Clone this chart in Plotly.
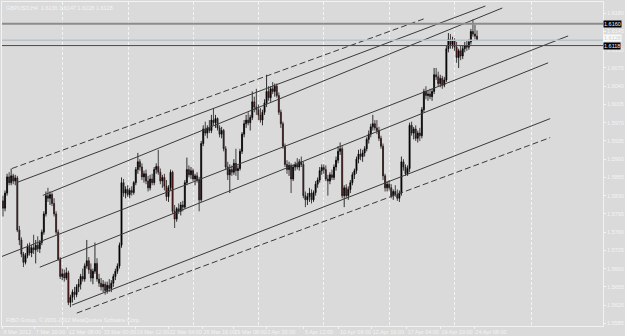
import plotly.graph_objects as go

# ---------------- data ----------------
open_ = [
 1.5820,1.5806,1.5835,1.5866,1.5855,1.5868,1.5858,1.5864,1.5764,1.5745,
 1.5718,1.5702,1.5715,1.5732,1.5720,1.5730,1.5726,1.5735,1.5728,1.5740,
 1.5760,1.5795,1.5830,1.5825,1.5832,1.5815,1.5795,1.5760,1.5708,1.5675,
 1.5680,1.5672,1.5682,1.5625,1.5635,1.5645,1.5640,1.5655,1.5660,1.5675,
 1.5670,1.5695,1.5705,1.5688,1.5672,1.5685,1.5700,1.5670,1.5662,1.5655,
 1.5660,1.5648,1.5658,1.5652,1.5662,1.5675,1.5685,1.5695,1.5735,1.5855,
 1.5835,1.5842,1.5832,1.5840,1.5836,1.5855,1.5880,1.5895,1.5885,1.5866,
 1.5872,1.5858,1.5845,1.5862,1.5855,1.5880,1.5886,1.5875,1.5858,1.5865,
 1.5848,1.5828,1.5845,1.5875,1.5800,1.5785,1.5805,1.5800,1.5812,1.5808,
 1.5855,1.5880,1.5870,1.5878,1.5862,1.5868,1.5860,1.5822,1.5930,1.5958,
 1.5950,1.5960,1.5955,1.5975,1.5970,1.5978,1.5960,1.5948,1.5955,1.5920,
 1.5885,1.5870,1.5880,1.5875,1.5892,1.5878,1.5882,1.5915,1.5948,1.5968,
 1.5975,1.5970,1.5980,1.6010,1.6000,1.5995,1.5985,1.5975,1.5990,1.6008,
 1.6030,1.6018,1.6035,1.6030,1.6040,1.6022,1.5990,1.5968,1.5925,1.5890,
 1.5880,1.5888,1.5862,1.5885,1.5890,1.5885,1.5895,1.5890,1.5830,1.5822,
 1.5828,1.5835,1.5822,1.5836,1.5852,1.5860,1.5878,1.5884,1.5880,1.5862,
 1.5858,1.5870,1.5865,1.5885,1.5898,1.5915,1.5920,1.5830,1.5845,1.5830,
 1.5842,1.5855,1.5870,1.5878,1.5900,1.5910,1.5905,1.5912,1.5920,1.5938,
 1.5948,1.5962,1.5968,1.5960,1.5955,1.5940,1.5925,1.5868,1.5845,1.5852,
 1.5845,1.5830,1.5838,1.5832,1.5825,1.5835,1.5895,1.5885,1.5872,1.5882,
 1.5965,1.5950,1.5958,1.5940,1.5950,1.5945,1.5995,1.6030,1.6022,1.6025,
 1.6020,1.6030,1.6062,1.6058,1.6045,1.6055,1.6042,1.6052,1.6112,1.6130,
 1.6120,1.6128,1.6115,1.6095,1.6108,1.6098,1.6112,1.6118,1.6115,1.6125,
 1.6145,1.6140,1.6136]

high = [
 1.5830,1.5840,1.5872,1.5875,1.5882,1.5872,1.5870,1.5868,1.5772,1.5750,
 1.5722,1.5720,1.5738,1.5740,1.5735,1.5755,1.5745,1.5752,1.5745,1.5765,
 1.5800,1.5838,1.5845,1.5838,1.5836,1.5825,1.5800,1.5765,1.5712,1.5690,
 1.5688,1.5692,1.5686,1.5640,1.5650,1.5655,1.5660,1.5670,1.5680,1.5690,
 1.5700,1.5745,1.5712,1.5700,1.5690,1.5740,1.5710,1.5680,1.5672,1.5668,
 1.5665,1.5665,1.5670,1.5668,1.5680,1.5690,1.5700,1.5740,1.5865,1.5862,
 1.5848,1.5850,1.5845,1.5848,1.5858,1.5885,1.5912,1.5900,1.5892,1.5878,
 1.5880,1.5868,1.5870,1.5872,1.5885,1.5892,1.5918,1.5882,1.5870,1.5872,
 1.5860,1.5850,1.5880,1.5878,1.5812,1.5808,1.5815,1.5818,1.5820,1.5860,
 1.5903,1.5888,1.5885,1.5882,1.5872,1.5875,1.5866,1.5935,1.5965,1.5972,
 1.5965,1.5975,1.5985,1.5998,1.5985,1.5980,1.5965,1.5962,1.5958,1.5925,
 1.5895,1.5890,1.5888,1.5900,1.5920,1.5888,1.5920,1.5952,1.5975,1.5985,
 1.5990,1.5985,1.6030,1.6020,1.6035,1.6005,1.5998,1.5995,1.6015,1.6062,
 1.6040,1.6040,1.6048,1.6045,1.6045,1.6028,1.5995,1.5972,1.5930,1.5898,
 1.5895,1.5892,1.5890,1.5895,1.5902,1.5900,1.5905,1.5895,1.5838,1.5835,
 1.5845,1.5842,1.5840,1.5858,1.5865,1.5885,1.5890,1.5890,1.5888,1.5870,
 1.5875,1.5880,1.5890,1.5905,1.5925,1.5932,1.5925,1.5850,1.5852,1.5848,
 1.5860,1.5875,1.5882,1.5905,1.5918,1.5920,1.5918,1.5925,1.5942,1.5955,
 1.5968,1.5985,1.5975,1.5975,1.5962,1.5945,1.5930,1.5872,1.5858,1.5860,
 1.5852,1.5842,1.5850,1.5842,1.5840,1.5905,1.5900,1.5890,1.5888,1.5970,
 1.5972,1.5962,1.5965,1.5955,1.5960,1.6000,1.6035,1.6040,1.6032,1.6035,
 1.6035,1.6075,1.6075,1.6068,1.6062,1.6060,1.6058,1.6118,1.6142,1.6140,
 1.6135,1.6132,1.6125,1.6112,1.6118,1.6118,1.6125,1.6128,1.6130,1.6150,
 1.6168,1.6158,1.6147]

low = [
 1.5790,1.5800,1.5830,1.5850,1.5850,1.5852,1.5850,1.5760,1.5735,1.5712,
 1.5693,1.5698,1.5710,1.5715,1.5712,1.5718,1.5700,1.5722,1.5720,1.5735,
 1.5755,1.5790,1.5818,1.5812,1.5810,1.5790,1.5755,1.5705,1.5670,1.5668,
 1.5665,1.5668,1.5620,1.5616,1.5625,1.5630,1.5635,1.5645,1.5650,1.5665,
 1.5665,1.5690,1.5680,1.5665,1.5660,1.5680,1.5665,1.5655,1.5648,1.5645,
 1.5640,1.5642,1.5645,1.5645,1.5655,1.5668,1.5680,1.5690,1.5730,1.5828,
 1.5825,1.5828,1.5825,1.5830,1.5832,1.5850,1.5872,1.5878,1.5860,1.5855,
 1.5852,1.5838,1.5840,1.5850,1.5850,1.5872,1.5870,1.5852,1.5845,1.5840,
 1.5820,1.5818,1.5840,1.5795,1.5768,1.5780,1.5795,1.5792,1.5800,1.5805,
 1.5850,1.5865,1.5862,1.5858,1.5850,1.5855,1.5800,1.5818,1.5925,1.5945,
 1.5940,1.5950,1.5950,1.5965,1.5960,1.5955,1.5942,1.5940,1.5915,1.5880,
 1.5860,1.5835,1.5868,1.5870,1.5868,1.5860,1.5878,1.5910,1.5942,1.5960,
 1.5965,1.5955,1.5975,1.5990,1.5985,1.5975,1.5970,1.5965,1.5985,1.6000,
 1.6012,1.6010,1.6025,1.6020,1.6018,1.5985,1.5960,1.5920,1.5885,1.5872,
 1.5868,1.5835,1.5858,1.5878,1.5880,1.5878,1.5885,1.5825,1.5808,1.5812,
 1.5818,1.5815,1.5818,1.5830,1.5845,1.5855,1.5870,1.5872,1.5858,1.5830,
 1.5852,1.5860,1.5860,1.5878,1.5892,1.5908,1.5825,1.5808,1.5825,1.5822,
 1.5835,1.5850,1.5862,1.5872,1.5892,1.5898,1.5895,1.5905,1.5915,1.5930,
 1.5942,1.5955,1.5955,1.5948,1.5935,1.5920,1.5860,1.5838,1.5838,1.5840,
 1.5825,1.5822,1.5828,1.5820,1.5818,1.5830,1.5878,1.5868,1.5868,1.5875,
 1.5945,1.5938,1.5935,1.5932,1.5935,1.5940,1.5990,1.6015,1.6012,1.6015,
 1.6012,1.6025,1.6052,1.6040,1.6038,1.6035,1.6038,1.6048,1.6105,1.6112,
 1.6112,1.6108,1.6085,1.6075,1.6090,1.6092,1.6105,1.6108,1.6110,1.6120,
 1.6135,1.6130,1.6128]

close = [
 1.5806,1.5835,1.5866,1.5855,1.5868,1.5858,1.5864,1.5764,1.5745,1.5718,
 1.5702,1.5715,1.5732,1.5720,1.5730,1.5726,1.5735,1.5728,1.5740,1.5760,
 1.5795,1.5830,1.5825,1.5832,1.5815,1.5795,1.5760,1.5708,1.5675,1.5680,
 1.5672,1.5682,1.5625,1.5635,1.5645,1.5640,1.5655,1.5660,1.5675,1.5670,
 1.5695,1.5705,1.5688,1.5672,1.5685,1.5700,1.5670,1.5662,1.5655,1.5660,
 1.5648,1.5658,1.5652,1.5662,1.5675,1.5685,1.5695,1.5735,1.5855,1.5835,
 1.5842,1.5832,1.5840,1.5836,1.5855,1.5880,1.5895,1.5885,1.5866,1.5872,
 1.5858,1.5845,1.5862,1.5855,1.5880,1.5886,1.5875,1.5858,1.5865,1.5848,
 1.5828,1.5845,1.5875,1.5800,1.5785,1.5805,1.5800,1.5812,1.5808,1.5855,
 1.5880,1.5870,1.5878,1.5862,1.5868,1.5860,1.5822,1.5930,1.5958,1.5950,
 1.5960,1.5955,1.5975,1.5970,1.5978,1.5960,1.5948,1.5955,1.5920,1.5885,
 1.5870,1.5880,1.5875,1.5892,1.5878,1.5882,1.5915,1.5948,1.5968,1.5975,
 1.5970,1.5980,1.6010,1.6000,1.5995,1.5985,1.5975,1.5990,1.6008,1.6030,
 1.6018,1.6035,1.6030,1.6040,1.6022,1.5990,1.5968,1.5925,1.5890,1.5880,
 1.5888,1.5862,1.5885,1.5890,1.5885,1.5895,1.5890,1.5830,1.5822,1.5828,
 1.5835,1.5822,1.5836,1.5852,1.5860,1.5878,1.5884,1.5880,1.5862,1.5858,
 1.5870,1.5865,1.5885,1.5898,1.5915,1.5920,1.5830,1.5845,1.5830,1.5842,
 1.5855,1.5870,1.5878,1.5900,1.5910,1.5905,1.5912,1.5920,1.5938,1.5948,
 1.5962,1.5968,1.5960,1.5955,1.5940,1.5925,1.5868,1.5845,1.5852,1.5845,
 1.5830,1.5838,1.5832,1.5825,1.5835,1.5895,1.5885,1.5872,1.5882,1.5965,
 1.5950,1.5958,1.5940,1.5950,1.5945,1.5995,1.6030,1.6022,1.6025,1.6020,
 1.6030,1.6062,1.6058,1.6045,1.6055,1.6042,1.6052,1.6112,1.6130,1.6120,
 1.6128,1.6115,1.6095,1.6108,1.6098,1.6112,1.6118,1.6115,1.6125,1.6145,
 1.6140,1.6136,1.6128]

bars = list(range(len(close)))

# time-axis labels (bar position, text)
x_tick_pos = [-0.3, 15.6, 31.7, 48.8, 64.9, 81.0, 97.6, 112.7, 128.8, 147.3,
              164.4, 180.5, 197.6, 214.1, 230.7]
x_tick_text = ["6 Mar 2012", "7 Mar 20:00", "12 Mar 08:00", "15 Mar 00:00",
               "19 Mar 12:00", "22 Mar 04:00", "26 Mar 16:00", "29 Mar 08:00",
               "2 Apr 20:00", "5 Apr 12:00", "10 Apr 08:00", "12 Apr 16:00",
               "17 Apr 04:00", "19 Apr 20:00", "24 Apr 08:00"]
grid_pos = [29.3, 61.5, 93.2, 124.9, 157.1, 189.3, 221.0, 258.5]

# price-axis labels
y_ticks = [1.6180, 1.6145, 1.6110, 1.6075, 1.6040, 1.6005, 1.5970, 1.5935,
           1.5900, 1.5865, 1.5830, 1.5795, 1.5760, 1.5725, 1.5690, 1.5655,
           1.5620, 1.5585]
y_tick_text = ["%.4f" % v for v in y_ticks]

# channel / trend lines: (bar0, price0, bar1, price1, dashed)
channel_lines = [
    (4.4, 1.58821, 205.9, 1.61691, True),
    (6.8, 1.58553, 236.1, 1.61939, False),
    (19.5, 1.58305, 244.4, 1.61901, False),
    (-1.5, 1.57119, 276.6, 1.61365, False),
    (18.0, 1.56927, 266.8, 1.60849, False),
    (33.7, 1.56200, 267.8, 1.59778, False),
    (36.1, 1.56047, 267.8, 1.59414, True),
]

# horizontal levels: (price, colour, width, label bg, label fg, label shift)
levels = [
    (1.6160, "#8c8c8c", 2.0, "#000000", "#f2f2f2", 0),
    (1.6128, "#b7c2ca", 1.5, "#fafafa", "#cfcfcf", 2),
    (1.6118, "#4a4a4a", 1.0, "#000000", "#f2f2f2", 0),
]

title_text = "GBPUSD,H4  1.6136 1.6147 1.6128 1.6128"
footer_text = "FIBO Group, \u00a9 2001-2012 MetaQuotes Software Corp."

# ---------------- figure ----------------
BG = "#dadada"
TXT = "#f4f4f4"
FONT = "Liberation Sans"

fig = go.Figure()

for b0, p0, b1, p1, dashed in channel_lines:
    fig.add_trace(go.Scatter(
        x=[b0, b1], y=[p0, p1], mode="lines",
        line=dict(color="#3a3a3a", width=1, dash="6px,3px" if dashed else "solid"),
        hoverinfo="skip", showlegend=False))

fig.add_trace(go.Candlestick(
    x=bars, open=open_, high=high, low=low, close=close,
    increasing=dict(line=dict(color="#000000", width=0.8), fillcolor="#000000"),
    decreasing=dict(line=dict(color="#1a1a1a", width=0.8), fillcolor="#8b0000"),
    whiskerwidth=0, showlegend=False, hoverinfo="skip"))

for price, col, w, lbg, lfg, sh in levels:
    fig.add_shape(type="line", xref="paper", yref="y", x0=0, x1=1,
                  y0=price, y1=price, line=dict(color=col, width=w), layer="above")
    fig.add_annotation(xref="paper", yref="y", x=1, y=price, xanchor="left",
                       yanchor="middle", yshift=sh, text="%.4f" % price,
                       showarrow=False, bgcolor=lbg, borderpad=0,
                       font=dict(family=FONT, size=5.5, color=lfg))

fig.add_annotation(xref="paper", yref="paper", x=0.003, y=1, xanchor="left",
                   yanchor="top", yshift=-1, text=title_text, showarrow=False,
                   font=dict(family=FONT, size=5.5, color=TXT))
fig.add_annotation(xref="paper", yref="paper", x=0.003, y=0, xanchor="left",
                   yanchor="bottom", yshift=1, text=footer_text, showarrow=False,
                   font=dict(family=FONT, size=5.5, color=TXT))

fig.update_layout(
    width=625, height=336,
    margin=dict(l=2, r=20, t=1, b=10),
    paper_bgcolor=BG, plot_bgcolor=BG,
    showlegend=False,
    xaxis=dict(
        range=[-0.49, 293.66], rangeslider=dict(visible=False),
        tickmode="array", tickvals=x_tick_pos, ticktext=x_tick_text,
        tickangle=0,
        ticks="outside", ticklen=2, tickcolor=TXT,
        ticklabelposition="outside right",
        tickfont=dict(family=FONT, size=5.5, color=TXT),
        showgrid=False, zeroline=False,
        showline=True, linecolor="#f2f2f2", linewidth=1, mirror=True,
        minor=dict(tickmode="array", tickvals=grid_pos, showgrid=True,
                   gridcolor="#f4f4f4", griddash="3px,2px", gridwidth=1, ticks=""),
    ),
    yaxis=dict(
        side="right", range=[1.55799, 1.62016],
        tickmode="array", tickvals=y_ticks, ticktext=y_tick_text,
        ticks="outside", ticklen=2, tickcolor=TXT,
        tickfont=dict(family=FONT, size=5.5, color=TXT),
        showgrid=False, zeroline=False,
        showline=True, linecolor="#f2f2f2", linewidth=1, mirror=True,
    ),
)

fig.write_html("out.html")
